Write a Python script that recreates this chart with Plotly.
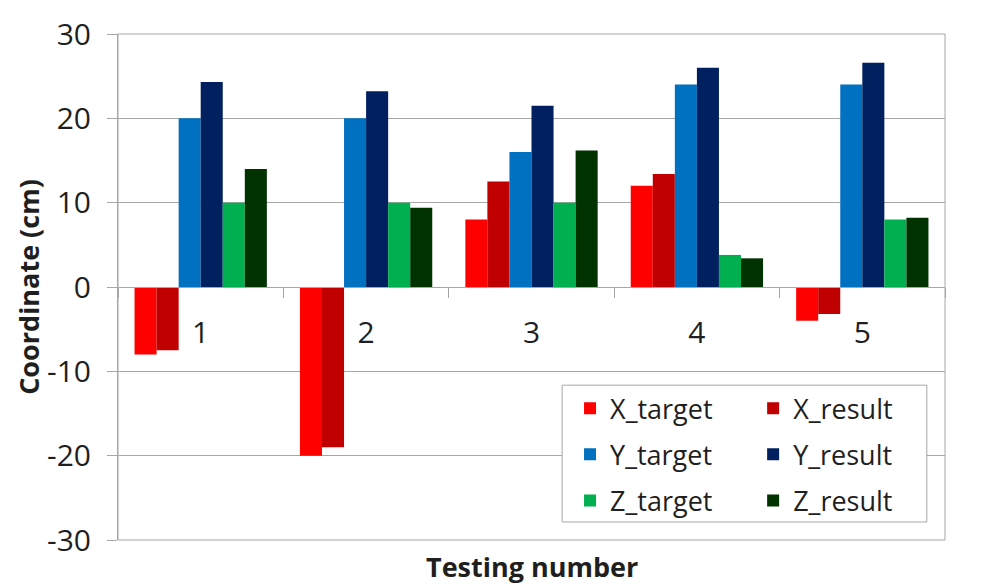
import plotly.graph_objects as go

categories = ["1", "2", "3", "4", "5"]
x_target = [-8, -20, 8, 12, -4]
x_result = [-7.5, -19, 12.5, 13.4, -3.2]
y_target = [20, 20, 16, 24, 24]
y_result = [24.3, 23.2, 21.5, 26.0, 26.6]
z_target = [10, 10, 10, 3.8, 8]
z_result = [14, 9.4, 16.2, 3.4, 8.2]

y_tick_values = [-30, -20, -10, 0, 10, 20, 30]
y_tick_labels = ["-30", "-20", "-10", "0", "10", "20", "30"]

series = [
    ("X_target", x_target, "#FF0000", "legend"),
    ("X_result", x_result, "#C00000", "legend2"),
    ("Y_target", y_target, "#0070C0", "legend"),
    ("Y_result", y_result, "#002060", "legend2"),
    ("Z_target", z_target, "#00B050", "legend"),
    ("Z_result", z_result, "#003300", "legend2"),
]

FONT = "Open Sans"
TXT = "#1f1f1f"
GRID = "#a6a6a6"

fig = go.Figure()
for name, vals, color, leg in series:
    fig.add_trace(go.Bar(
        x=categories, y=vals, name=name, legend=leg, legendgroup=name,
        marker=dict(color=color, line=dict(width=0)),
    ))

legend_common = dict(
    font=dict(family=FONT, size=27, color=TXT),
    bgcolor="rgba(0,0,0,0)", borderwidth=0,
    traceorder="grouped", tracegroupgap=8,
    xanchor="left", yanchor="top", orientation="v",
)

# page body has an 8px margin, so the figure is drawn 8px smaller/offset
fig.update_layout(
    width=996, height=580,
    margin=dict(l=110, r=59, t=26, b=48, autoexpand=False),
    paper_bgcolor="white", plot_bgcolor="white",
    barmode="group", bargap=0.2, bargroupgap=0,
    font=dict(family=FONT, size=27, color=TXT),
    showlegend=True,
    legend=dict(x=0.5466, y=0.308, **legend_common),
    legend2=dict(x=0.768, y=0.308, **legend_common),
    xaxis=dict(
        type="category", anchor="free", position=0.5, automargin=False,
        showline=True, linecolor=GRID, linewidth=1,
        ticks="outside", tickson="boundaries", ticklen=10, tickcolor=GRID,
        showgrid=False, ticklabelstandoff=19,
        tickfont=dict(family=FONT, size=30, color=TXT),
    ),
    yaxis=dict(
        range=[-30, 30], tickmode="array", automargin=False,
        tickvals=y_tick_values, ticktext=y_tick_labels,
        showgrid=True, gridcolor=GRID, gridwidth=1,
        zeroline=False, showline=True, linecolor=GRID,
        ticks="outside", ticklen=10, tickcolor=GRID,
        ticklabelstandoff=10,
        tickfont=dict(family=FONT, size=30, color=TXT),
    ),
    shapes=[
        dict(type="rect", xref="paper", yref="paper", x0=0, x1=1, y0=0, y1=1,
             line=dict(color=GRID, width=1), layer="above"),
        dict(type="rect", xref="paper", yref="paper", x0=0.537, x1=0.978,
             y0=0.0356, y1=0.306, line=dict(color=GRID, width=1),
             fillcolor="white", layer="above"),
    ],
    annotations=[
        dict(text="<b>Coordinate (cm)</b>", xref="paper", yref="paper",
             x=-0.109, y=0.5, textangle=-90, showarrow=False,
             xanchor="center", yanchor="middle",
             font=dict(family=FONT, size=27, color=TXT)),
        dict(text="<b>Testing number</b>", xref="paper", yref="paper",
             x=0.5, y=-0.053, showarrow=False,
             xanchor="center", yanchor="middle",
             font=dict(family=FONT, size=27, color=TXT)),
    ],
)

fig.write_html("out.html")
